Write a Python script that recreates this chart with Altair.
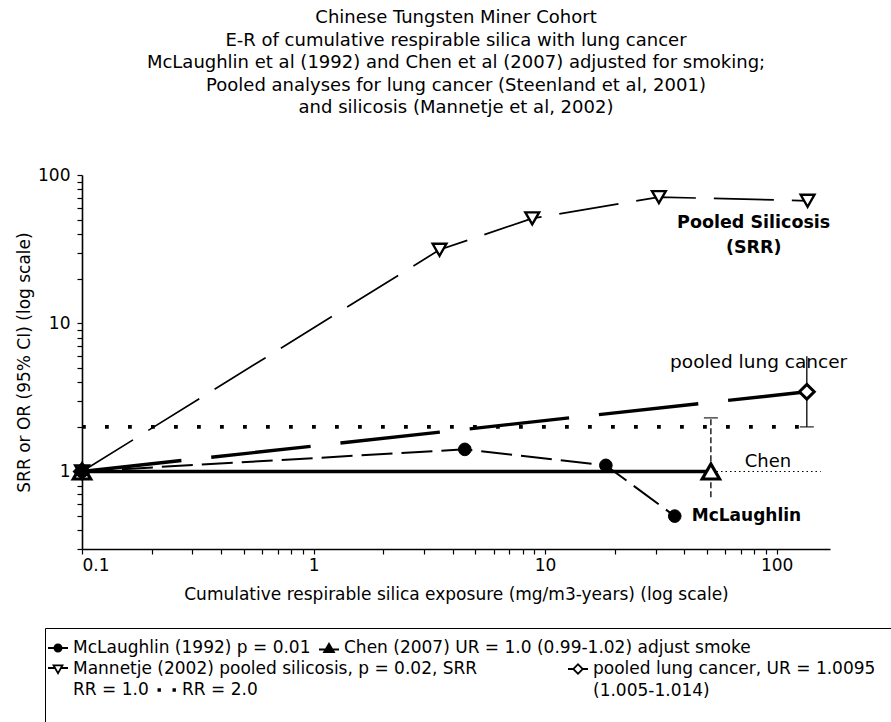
import altair as alt
import pandas as pd

FONT = "DejaVu Sans"

# ---------------- values ----------------
mcl_x = [0.1, 4.5, 18.3, 36.3]
mcl_y = [1.0, 1.41, 1.10, 0.50]

chen_x = [0.1, 52.0]
chen_y = [1.0, 1.0]
chen_ci_x = [52.0]
chen_ci_lo = [0.67]
chen_ci_hi = [2.3]

sil_x = [0.1, 3.5, 8.8, 31.0, 136.0]
sil_y = [1.0, 31.3, 51.0, 71.0, 67.0]

lung_x = [0.1, 135.0]
lung_y = [1.0, 3.45]
lung_ci_x = [135.0]
lung_ci_lo = [2.0]
lung_ci_hi = [6.0]

rr1_x = [0.1, 155.0]
rr1_y = [1.0, 1.0]
rr2_x = [0.1, 135.0]
rr2_y = [2.0, 2.0]

title_lines = [
    "Chinese Tungsten Miner Cohort",
    "E-R of cumulative respirable silica with lung cancer",
    "McLaughlin et al (1992) and Chen et al (2007) adjusted for smoking;",
    "Pooled analyses for lung cancer (Steenland et al, 2001)",
    "and silicosis (Mannetje et al, 2002)",
]

legend_row1 = ["McLaughlin (1992) p = 0.01", "Chen (2007) UR = 1.0 (0.99-1.02) adjust smoke"]
legend_row2 = ["Mannetje (2002) pooled silicosis, p = 0.02, SRR", "pooled lung cancer, UR = 1.0095"]
legend_row3 = ["RR = 1.0", "RR = 2.0"]
legend_note = ["(1.005-1.014)"]

ann_bold_text = ["Pooled Silicosis", "(SRR)"]
ann_bold_x = [79.6, 79.6]
ann_bold_y = [47.5, 32.2]

ann_lung_text = ["pooled lung cancer"]
ann_lung_x = [83.6]
ann_lung_y = [5.5]

ann_chen_text = ["Chen"]
ann_chen_x = [72.8]
ann_chen_y = [1.15]

ann_mcl_text = ["McLaughlin"]
ann_mcl_x = [43.0]
ann_mcl_y = [0.497]

x_domain = [0.1, 170]
y_domain = [0.3, 100]
x_tick_values = [round(m * 10 ** e, 6) for e in (-1, 0, 1) for m in range(1, 10)] + [100]
y_tick_values = [round(m * 0.1, 6) for m in range(3, 10)] + \
                [round(m * 10 ** e, 6) for e in (0, 1) for m in range(1, 10)] + [100]
x_label_values = [0.1, 1, 10, 100]
y_label_values = [1, 10, 100]

# ---------------- legend symbol geometry (drawn as black fills) ----------------
PATH_MCL = "M-1,-0.1H1V0.1H-1Z M-0.45,0A0.45,0.45 0 1,1 0.45,0A0.45,0.45 0 1,1 -0.45,0Z"
PATH_CHEN = "M-1,0.05H1V0.25H-1Z M0,-0.6L0.65,0.5L-0.65,0.5Z"
PATH_SIL = ("M-1,-0.2H-0.3V0H-1Z M0.3,-0.2H1V0H0.3Z "
            "M-0.6,-0.45L0.6,-0.45L0,0.6Z M-0.29,-0.27L0,0.24L0.29,-0.27Z")
PATH_LUNG = ("M-1,-0.1H-0.42V0.1H-1Z M0.42,-0.1H1V0.1H0.42Z "
             "M0,-0.6L0.6,0L0,0.6L-0.6,0Z M0,-0.345L-0.345,0L0,0.345L0.345,0Z")
PATH_RR1 = "M0,0"
PATH_RR2 = "M-0.95,-0.17H-0.61V0.17H-0.95Z M0.55,-0.17H0.89V0.17H0.55Z"
# frame of the legend box, drawn around the note entry (1 unit = 1 px)
PATH_FRAME = "M-535,-62H315V52H-535Z"


def frame(xs, ys):
    return pd.DataFrame({"x": xs, "y": ys})


def label_expr(vals):
    arr = ",".join(str(v) for v in vals)
    return f"indexof([{arr}], datum.value) >= 0 ? format(datum.value, '~g') : ''"


xscale = alt.Scale(type="log", domain=x_domain, nice=False)
yscale = alt.Scale(type="log", domain=y_domain, nice=False)

X = alt.X(
    "x:Q", scale=xscale,
    title="Cumulative respirable silica exposure (mg/m3-years) (log scale)",
    axis=alt.Axis(values=x_tick_values, labelExpr=label_expr(x_label_values),
                  labelOverlap=False, tickSize=5, labelPadding=3, titlePadding=13,
                  grid=False),
)
Y = alt.Y(
    "y:Q", scale=yscale,
    title="SRR or OR (95% CI) (log scale)",
    axis=alt.Axis(values=y_tick_values, labelExpr=label_expr(y_label_values),
                  labelOverlap=False, tickSize=5, labelPadding=7, titlePadding=4,
                  grid=False),
)

base_line = dict(color="black")

rr1 = alt.Chart(frame(rr1_x, rr1_y)).mark_line(strokeWidth=1, strokeDash=[1.5, 3], **base_line).encode(x=X, y=Y)
rr2 = alt.Chart(frame(rr2_x, rr2_y)).mark_line(strokeWidth=3.8, strokeDash=[3.8, 19.2], **base_line).encode(x=X, y=Y)
sil_line = alt.Chart(frame(sil_x, sil_y)).mark_line(strokeWidth=1.7, strokeDash=[60, 18], **base_line).encode(x=X, y=Y)
lung_line = alt.Chart(frame(lung_x, lung_y)).mark_line(strokeWidth=3.4, strokeDash=[100, 30], **base_line).encode(x=X, y=Y)
mcl_line = alt.Chart(frame(mcl_x, mcl_y)).mark_line(strokeWidth=2, strokeDash=[31, 9], **base_line).encode(x=X, y=Y)
chen_line = alt.Chart(frame(chen_x, chen_y)).mark_line(strokeWidth=3.6, **base_line).encode(x=X, y=Y)

chen_ci = alt.Chart(pd.DataFrame({"x": chen_ci_x, "y": chen_ci_lo, "y2": chen_ci_hi})).mark_rule(
    color="black", strokeWidth=1.3, strokeDash=[6, 3]).encode(x=X, y=Y, y2="y2:Q")
chen_cap = alt.Chart(frame(chen_ci_x, chen_ci_hi)).mark_tick(
    orient="horizontal", size=14, thickness=1.5, color="black").encode(x=X, y=Y)
lung_ci = alt.Chart(pd.DataFrame({"x": lung_ci_x, "y": lung_ci_lo, "y2": lung_ci_hi})).mark_rule(
    color="black", strokeWidth=1.3).encode(x=X, y=Y, y2="y2:Q")
lung_cap = alt.Chart(frame(lung_ci_x, lung_ci_lo)).mark_tick(
    orient="horizontal", size=14, thickness=1.5, color="black").encode(x=X, y=Y)

sil_pts = alt.Chart(frame(sil_x, sil_y)).mark_point(
    shape="triangle-down", filled=True, fill="white", stroke="black", strokeWidth=2.4, size=190, opacity=1
).encode(x=X, y=Y)
lung_pts = alt.Chart(frame(lung_x, lung_y)).mark_point(
    shape="diamond", filled=True, fill="white", stroke="black", strokeWidth=3, size=220, opacity=1
).encode(x=X, y=Y)
chen_pts = alt.Chart(frame(chen_x, chen_y)).mark_point(
    shape="triangle-up", filled=True, fill="white", stroke="black", strokeWidth=3.2, size=300, opacity=1
).encode(x=X, y=Y)
mcl_pts = alt.Chart(frame(mcl_x, mcl_y)).mark_point(
    shape="circle", filled=True, fill="black", stroke="black", strokeWidth=1, size=160, opacity=1
).encode(x=X, y=Y)


def ann(texts, xs, ys, align, weight, size):
    d = pd.DataFrame({"t": texts, "x": xs, "y": ys})
    return alt.Chart(d).mark_text(
        align=align, baseline="middle", font=FONT, fontSize=size, fontWeight=weight, color="black"
    ).encode(x=X, y=Y, text="t:N")


ann_sil = ann(ann_bold_text, ann_bold_x, ann_bold_y, "center", "bold", 17.5)
ann_lung = ann(ann_lung_text, ann_lung_x, ann_lung_y, "center", "normal", 18.5)
ann_chen = ann(ann_chen_text, ann_chen_x, ann_chen_y, "left", "normal", 18)
ann_mcl = ann(ann_mcl_text, ann_mcl_x, ann_mcl_y, "left", "bold", 17)


def legend_row(field, labels, paths, legend_x, legend_y, col_pad):
    lg = alt.Legend(
        orient="none", legendX=legend_x, legendY=legend_y, title=None, direction="horizontal",
        labelFont=FONT, labelFontSize=17, labelColor="black", labelLimit=2000, labelOffset=5,
        symbolSize=400, symbolStrokeWidth=0, symbolFillColor="black", symbolOpacity=1,
        columnPadding=col_pad, padding=0,
    )
    return alt.Chart(pd.DataFrame({field: labels})).transform_filter("false").mark_point(
        filled=True, color="black", opacity=1
    ).encode(
        shape=alt.Shape(f"{field}:N", scale=alt.Scale(domain=labels, range=paths), legend=lg)
    )


leg1 = legend_row("row1", legend_row1, [PATH_MCL, PATH_CHEN], -34, 463, 8)
leg2 = legend_row("row2", legend_row2, [PATH_SIL, PATH_LUNG], -34, 484, 90)
leg3 = legend_row("row3", legend_row3, [PATH_RR1, PATH_RR2], -34, 505, 8)

note_layer = alt.Chart(pd.DataFrame({"note": legend_note})).transform_filter("false").mark_point().encode(
    opacity=alt.Opacity(
        "note:N", scale=alt.Scale(domain=legend_note, range=[1]),
        legend=alt.Legend(orient="none", legendX=490, legendY=507, title=None, padding=0,
                          symbolType=PATH_FRAME, symbolSize=4, symbolStrokeColor="black",
                          symbolStrokeWidth=1, symbolFillColor="transparent",
                          labelFont=FONT, labelFontSize=17,
                          labelColor="black", labelLimit=2000, labelOffset=4),
    )
)

chart = alt.layer(
    rr1, rr2, sil_line, lung_line, mcl_line, chen_line,
    chen_ci, chen_cap, lung_ci, lung_cap,
    sil_pts, lung_pts, chen_pts, mcl_pts,
    ann_sil, ann_lung, ann_chen, ann_mcl,
    leg1, leg2, leg3, note_layer,
).resolve_scale(shape="independent").resolve_legend(shape="independent").properties(
    width=748, height=374,
    padding={"left": 82, "top": 175, "right": 61, "bottom": 173},
    autosize=alt.AutoSizeParams(type="none"),
    title=alt.TitleParams(text=title_lines, font=FONT, fontSize=18, fontWeight="normal",
                          lineHeight=22.5, anchor="middle", offset=31, color="black",
                          baseline="bottom"),
).configure_view(stroke=None).configure_axis(
    domainColor="black", domainWidth=1.6, tickColor="black", tickWidth=1.2,
    labelFont=FONT, labelFontSize=17, labelColor="black",
    titleFont=FONT, titleFontSize=17, titleFontWeight="normal", titleColor="black",
)

chart.save("out.html", embed_options={"renderer": "svg", "actions": False})
